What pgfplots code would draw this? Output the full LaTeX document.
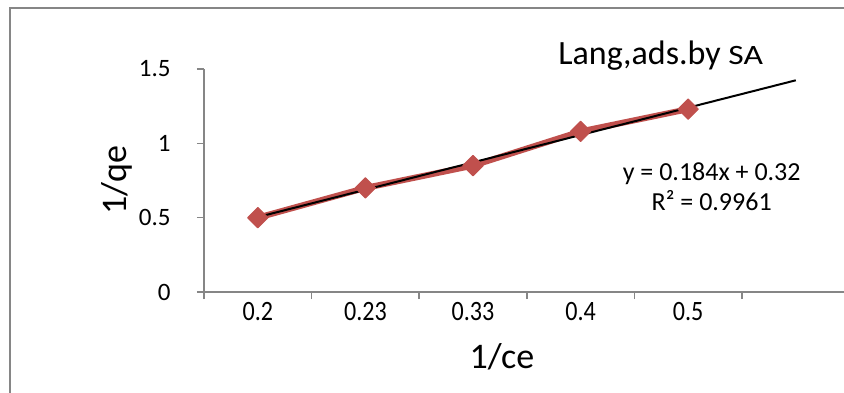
\documentclass[border=0pt]{standalone}
\usepackage{fontspec}
\setmainfont{Carlito}
\newfontfamily\condfont[FakeStretch=0.86]{Carlito}
\usepackage{pgfplots}
\pgfplotsset{compat=1.18}
\definecolor{serred}{RGB}{192,80,77}
\definecolor{axgray}{RGB}{134,134,134}
\begin{document}
\begin{tikzpicture}
\useasboundingbox (0,0) rectangle (422bp,-196.5bp);
\draw[axgray, line width=1bp] (4.75bp,-200bp) -- (4.75bp,-4bp) -- (430bp,-4bp);
\begin{axis}[
  at={(102bp,-146bp)}, anchor=south west,
  scale only axis, width=322.8bp, height=111.5bp,
  xmin=0.5, xmax=6.5, ymin=0, ymax=1.5,
  axis x line=bottom, axis y line=left,
  x axis line style={-}, y axis line style={-},
  axis line style={draw=axgray, line width=0.75bp},
  tick style={draw=axgray, line width=0.75bp},
  tick align=outside, major tick length=3.5bp,
  xtick={0.5,1.5,2.5,3.5,4.5,5.5,6.5},
  x tick label as interval,
  xticklabels={0.2,0.23,0.33,0.4,0.5,{}},
  ytick={0,0.5,1,1.5},
  yticklabels={0,0.5,1,1.5},
  /pgf/number format/assume math mode=true,
  ticklabel style={text=black},
  xticklabel style={anchor=base, yshift=-10.5bp, font=\condfont\fontsize{14bp}{16bp}\selectfont},
  yticklabel style={anchor=east, inner sep=0pt, xshift=-13bp, font=\fontsize{12.5bp}{14bp}\selectfont},
  xlabel={1/ce},
  xlabel style={at={(axis description cs:0.4616,-0.2915)}, anchor=center, font=\fontsize{18bp}{20bp}\selectfont},
  ylabel={1/qe},
  ylabel style={at={(axis description cs:-0.1348,0.502)}, anchor=center, font=\fontsize{18bp}{20bp}\selectfont},
  clip=false,
]
\addplot[serred, line width=3bp, line join=round, mark=square*, mark size=3.6bp,
  mark options={rotate=45, fill=serred, draw=serred, line width=0.5bp}]
  coordinates {(1,0.5) (2,0.7) (3,0.85) (4,1.08) (5,1.23)};
\addplot[black, line width=1bp] coordinates {(1,0.504) (6,1.424)};
\node[anchor=base west, inner sep=0pt] at (axis description cs:0.5483,1.018)
  {\fontsize{17bp}{19bp}\selectfont Lang,ads.by \fontsize{14bp}{16bp}\selectfont\scalebox{1.2}[1]{SA}};
\node[anchor=base, font=\fontsize{13bp}{15bp}\selectfont] at (axis description cs:0.7864,0.502) {y = 0.184x + 0.32};
\node[anchor=base, font=\fontsize{13bp}{15bp}\selectfont] at (axis description cs:0.7864,0.3643) {R² = 0.9961};
\end{axis}
\end{tikzpicture}
\end{document}
